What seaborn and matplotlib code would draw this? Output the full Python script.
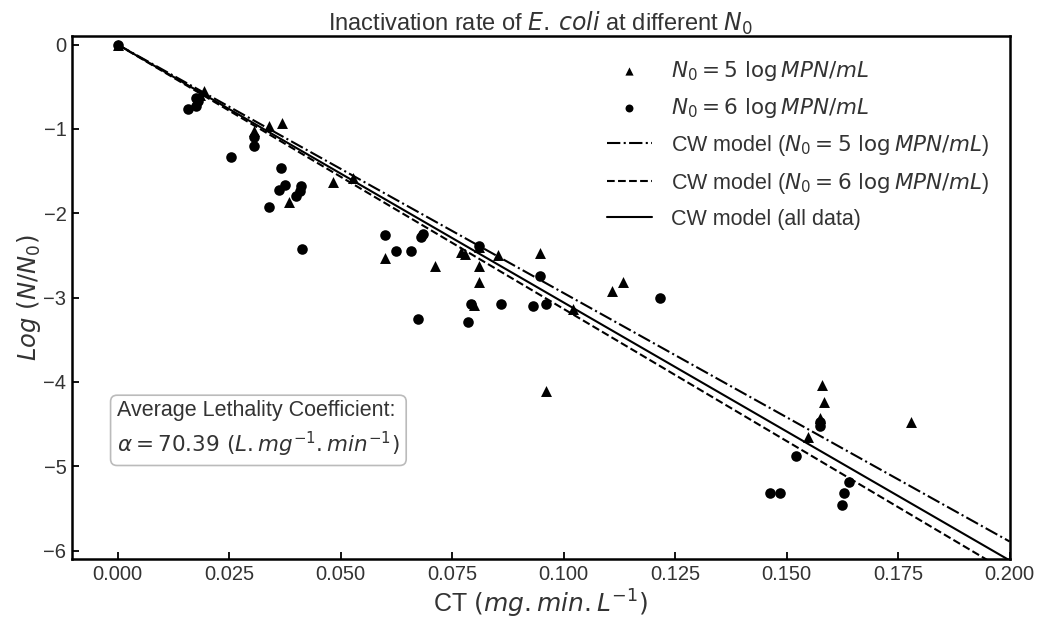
import numpy as np
import pandas as pd
import matplotlib
matplotlib.use("Agg")
import matplotlib.pyplot as plt
import seaborn as sns

# ---- data ----
ct_n5 = [0.0, 0.0194, 0.0185, 0.0368, 0.0339, 0.0305, 0.0384, 0.0484, 0.0528, 0.060,
         0.0712, 0.077, 0.078, 0.0854, 0.081, 0.081, 0.0948, 0.080, 0.1022, 0.1133,
         0.1109, 0.0961, 0.158, 0.1585, 0.1574, 0.1549, 0.178, 0.081]
log_n5 = [0.0, -0.55, -0.60, -0.935, -0.97, -1.03, -1.87, -1.63, -1.58, -2.53,
          -2.62, -2.46, -2.48, -2.50, -2.63, -2.81, -2.47, -3.09, -3.14, -2.82,
          -2.92, -4.11, -4.04, -4.24, -4.43, -4.65, -4.47, -2.40]

ct_n6 = [0.0, 0.0176, 0.018, 0.0158, 0.0176, 0.0305, 0.0305, 0.0255, 0.0367, 0.0376,
         0.0361, 0.0412, 0.0408, 0.0401, 0.0339, 0.0413, 0.060, 0.0685, 0.068, 0.0625,
         0.0657, 0.081, 0.0948, 0.0793, 0.086, 0.0931, 0.096, 0.0673, 0.0785, 0.1217,
         0.1574, 0.1574, 0.1522, 0.1462, 0.1486, 0.1641, 0.1628, 0.1624]
log_n6 = [0.0, -0.63, -0.67, -0.76, -0.73, -1.10, -1.20, -1.33, -1.46, -1.67,
          -1.72, -1.68, -1.74, -1.80, -1.92, -2.42, -2.26, -2.25, -2.28, -2.45,
          -2.45, -2.39, -2.74, -3.07, -3.07, -3.10, -3.07, -3.25, -3.29, -3.00,
          -4.47, -4.52, -4.88, -5.31, -5.31, -5.18, -5.31, -5.46]

# Chick-Watson model slopes (log10 units per mg.min/L)
slope_n5 = -29.45
slope_n6 = -31.33
slope_all = -70.39 / np.log(10)
alpha_text = "70.39"

model_ct = [0.0, 0.2]

x_ticks = [0.0, 0.025, 0.05, 0.075, 0.1, 0.125, 0.15, 0.175, 0.2]
x_ticklabels = ["0.000", "0.025", "0.050", "0.075", "0.100", "0.125", "0.150", "0.175", "0.200"]
y_ticks = [0, -1, -2, -3, -4, -5, -6]
y_ticklabels = ["0", "\u22121", "\u22122", "\u22123", "\u22124", "\u22125", "\u22126"]

sns.set_style("white")
plt.rcParams["font.family"] = ["Liberation Sans", "DejaVu Sans"]
plt.rcParams["mathtext.fontset"] = "dejavusans"

fig, ax = plt.subplots(figsize=(10.44, 6.22), dpi=100)
fig.subplots_adjust(left=0.069, right=0.967, top=0.942, bottom=0.101)

df5 = pd.DataFrame({"CT": ct_n5, "logN": log_n5})
df6 = pd.DataFrame({"CT": ct_n6, "logN": log_n6})

sns.scatterplot(data=df5, x="CT", y="logN", marker="^", color="black", s=62,
                edgecolor="black", linewidth=0, ax=ax,
                label=r"$N_0 = 5\ \log MPN/mL$", zorder=3)
sns.scatterplot(data=df6, x="CT", y="logN", marker="o", color="black", s=58,
                edgecolor="black", linewidth=0, ax=ax,
                label=r"$N_0 = 6\ \log MPN/mL$", zorder=3)

mx = np.array(model_ct)
sns.lineplot(x=mx, y=slope_n5 * mx, color="black", linestyle="-.", linewidth=1.5, ax=ax,
             label=r"CW model ($N_0 = 5\ \log MPN/mL$)")
sns.lineplot(x=mx, y=slope_n6 * mx, color="black", linestyle="--", linewidth=1.5, ax=ax,
             label=r"CW model ($N_0 = 6\ \log MPN/mL$)")
sns.lineplot(x=mx, y=slope_all * mx, color="black", linestyle="-", linewidth=1.5, ax=ax,
             label="CW model (all data)")

ax.set_xlim(-0.0102, 0.2)
ax.set_ylim(-6.1, 0.1)
ax.set_xticks(x_ticks)
ax.set_xticklabels(x_ticklabels)
ax.set_yticks(y_ticks)
ax.set_yticklabels(y_ticklabels)
ax.tick_params(axis="both", direction="in", length=5, width=1.3, labelsize=14.5,
               left=True, bottom=True, top=False, right=False, colors="black",
               labelcolor="#333333", pad=4)
for sp in ax.spines.values():
    sp.set_color("black")
    sp.set_linewidth(1.8)

ax.set_xlabel(r"CT $(mg.min.L^{-1})$", fontsize=18, color="#333333", labelpad=3)
ax.set_ylabel(r"$Log\ (N/N_0)$", fontsize=17.5, color="#333333", labelpad=0)
ax.set_title(r"Inactivation rate of $\mathit{E.\,coli}$ at different $N_0$",
             fontsize=17, color="#333333", pad=4)

leg = ax.legend(loc="upper right", frameon=False, fontsize=15.5,
                handlelength=2.1, borderaxespad=0.3, labelspacing=0.6,
                markerscale=0.75, handletextpad=0.9,
                bbox_to_anchor=(0.995, 0.985))
for t in leg.get_texts():
    t.set_color("#333333")

ax.text(0.048, 0.248,
        "Average Lethality Coefficient:\n" + r"$\alpha = " + alpha_text + r"\ (L.mg^{-1}.min^{-1})$",
        transform=ax.transAxes, fontsize=15.5, color="#333333", va="center", ha="left",
        linespacing=1.4,
        bbox=dict(boxstyle="round,pad=0.3", facecolor="white", edgecolor="#bbbbbb", linewidth=1.2))

fig.savefig("out.png", dpi=100)
